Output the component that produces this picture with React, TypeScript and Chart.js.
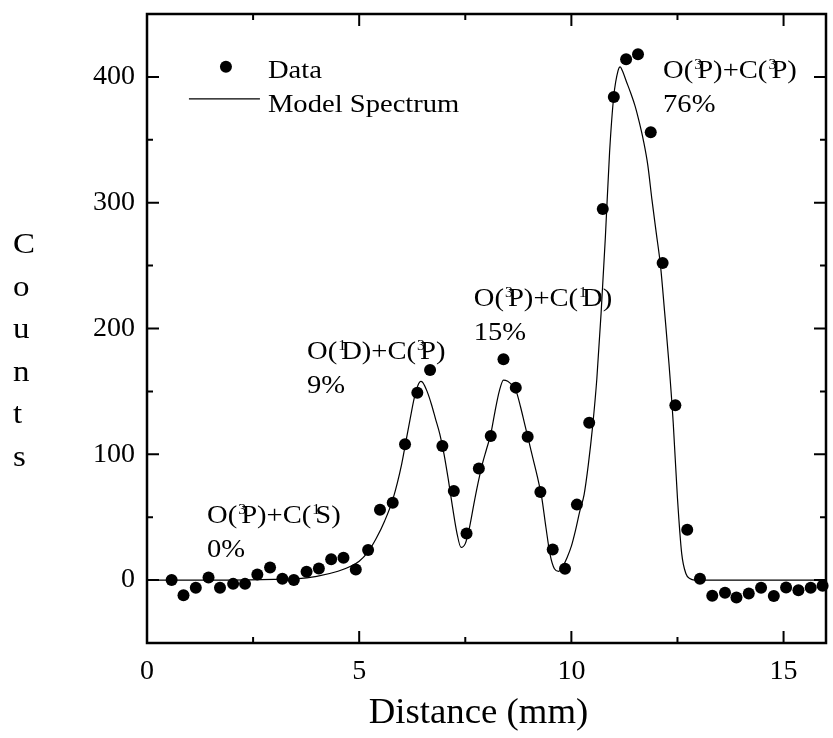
import { useEffect, useRef } from 'react';
import { Chart, registerables } from 'chart.js';

Chart.register(...registerables);

// ---- Data ----
const dataX = [0.58, 0.86, 1.15, 1.45, 1.72, 2.03, 2.31, 2.6, 2.9, 3.19, 3.46, 3.76, 4.05, 4.34, 4.63, 4.92, 5.21, 5.49, 5.79, 6.08, 6.37, 6.67, 6.96, 7.23, 7.53, 7.82, 8.1, 8.4, 8.69, 8.97, 9.27, 9.56, 9.85, 10.13, 10.42, 10.74, 11.0, 11.29, 11.57, 11.87, 12.15, 12.45, 12.73, 13.03, 13.32, 13.62, 13.89, 14.18, 14.47, 14.77, 15.06, 15.35, 15.64, 15.92, 16.2];
const dataY = [0, -12, -6, 2, -6, -3, -3, 4.5, 10, 1, 0, 6.6, 9.3, 16.5, 17.7, 8.5, 24, 56, 61.5, 108, 149, 167, 106.6, 70.8, 37, 88.8, 114.5, 175.5, 153, 114, 70, 24.4, 9, 60, 125, 295, 384, 414, 418, 356, 252, 139, 40, 1, -12.5, -10, -13.8, -10.6, -6, -12.7, -5.8, -8, -6, -4.5, -4.5];

const modelX = [0, 1, 2, 3, 3.5, 4, 4.5, 4.8, 5.0, 5.2, 5.4, 5.6, 5.8, 6.0, 6.1, 6.2, 6.3, 6.4, 6.45, 6.5, 6.6, 6.7, 6.8, 6.9, 7.0, 7.1, 7.2, 7.3, 7.4, 7.5, 7.6, 7.7, 7.8, 7.9, 8.0, 8.1, 8.2, 8.3, 8.4, 8.5, 8.6, 8.7, 8.8, 8.9, 9.0, 9.1, 9.2, 9.3, 9.4, 9.5, 9.6, 9.7, 9.8, 9.9, 10.0, 10.1, 10.2, 10.3, 10.4, 10.5, 10.6, 10.7, 10.8, 10.9, 11.0, 11.1, 11.15, 11.2, 11.3, 11.4, 11.5, 11.6, 11.7, 11.8, 11.9, 12.0, 12.1, 12.2, 12.3, 12.4, 12.5, 12.6, 12.7, 12.8, 12.9, 13.0, 14, 15, 16];
const modelY = [0, 0, 0, 0.5, 1, 3, 7, 11, 15, 22, 33, 47, 65, 92, 110, 128, 145, 156, 158, 157, 150, 140, 128, 116, 100, 80, 58, 38, 26, 29, 42, 60, 77, 92, 104, 116, 134, 150, 159, 158, 155, 150, 138, 124, 110, 96, 82, 66, 42, 20, 9, 7, 11, 18, 27, 40, 55, 68, 92, 122, 160, 212, 272, 340, 385, 405, 408, 405, 396, 387, 377, 364, 349, 330, 302, 276, 250, 212, 172, 125, 65, 21, 5, 1, 0, 0, 0, 0, 0];

const xTickLabels = ['0', '5', '10', '15'];
const yTickLabels = ['0', '100', '200', '300', '400'];

const seriesNames = ['Data', 'Model Spectrum'];
const yTitle = 'Counts';
const xTitle = 'Distance (mm)';

// channel labels: even parts = normal text, odd parts = superscript
const channelParts = [
  ['O(', '3', 'P)+C(', '1', 'S)'],
  ['O(', '1', 'D)+C(', '3', 'P)'],
  ['O(', '3', 'P)+C(', '1', 'D)'],
  ['O(', '3', 'P)+C(', '3', 'P)'],
];
const channelPercents = ['0%', '9%', '15%', '76%'];
const channelAnchorX = [1.414, 3.77, 7.7, 12.16];
const channelAnchorY = [45.3, 175.7, 217.9, 399.2];

const FONT = '"Liberation Serif", "Times New Roman", serif';

function drawStr(ctx: CanvasRenderingContext2D, s: string, x: number, y: number, size: number, sx: number, align: CanvasTextAlign = 'left') {
  ctx.save();
  ctx.font = `${size}px ${FONT}`;
  ctx.textAlign = align;
  ctx.textBaseline = 'alphabetic';
  ctx.fillStyle = '#000';
  ctx.translate(x, y);
  ctx.scale(sx, 1);
  ctx.fillText(s, 0, 0);
  ctx.restore();
}

function measure(ctx: CanvasRenderingContext2D, s: string, size: number, sx: number) {
  ctx.save();
  ctx.font = `${size}px ${FONT}`;
  const w = ctx.measureText(s).width * sx;
  ctx.restore();
  return w;
}

const decor = {
  id: 'decor',
  afterDraw(chart: any) {
    const { ctx, chartArea: ca, scales } = chart;
    const xs = scales.x;
    const ys = scales.y;
    ctx.save();
    ctx.strokeStyle = '#000';
    ctx.fillStyle = '#000';

    // tick marks (inward, all four sides)
    ctx.lineWidth = 2;
    ctx.beginPath();
    xs.ticks.forEach((t: any) => {
      const px = xs.getPixelForValue(t.value);
      const len = xTickLabels.includes(String(t.value)) ? 12 : 6;
      ctx.moveTo(px, ca.bottom);
      ctx.lineTo(px, ca.bottom - len);
      ctx.moveTo(px, ca.top);
      ctx.lineTo(px, ca.top + len);
    });
    ys.ticks.forEach((t: any) => {
      const py = ys.getPixelForValue(t.value);
      const len = yTickLabels.includes(String(t.value)) ? 12 : 6;
      ctx.moveTo(ca.left, py);
      ctx.lineTo(ca.left + len, py);
      ctx.moveTo(ca.right, py);
      ctx.lineTo(ca.right - len, py);
    });
    ctx.stroke();

    // frame
    ctx.lineWidth = 2.5;
    ctx.strokeRect(ca.left, ca.top, ca.right - ca.left, ca.bottom - ca.top);

    // legend
    const lx = xs.getPixelForValue(1.86);
    const ly = ys.getPixelForValue(408);
    ctx.beginPath();
    ctx.arc(lx, ly, 6, 0, Math.PI * 2);
    ctx.fill();
    drawStr(ctx, seriesNames[0], lx + 42, ly + 11, 26, 1.1);
    ctx.lineWidth = 1.2;
    ctx.beginPath();
    ctx.moveTo(lx - 37, ly + 32);
    ctx.lineTo(lx + 34, ly + 32);
    ctx.stroke();
    drawStr(ctx, seriesNames[1], lx + 42, ly + 45, 26, 1.1);

    // channel annotations
    channelParts.forEach((parts, i) => {
      let cx = xs.getPixelForValue(channelAnchorX[i]);
      const by = ys.getPixelForValue(channelAnchorY[i]);
      const x0 = cx;
      parts.forEach((p, k) => {
        if (k % 2 === 0) {
          drawStr(ctx, p, cx, by, 26, 1.1);
          cx += measure(ctx, p, 26, 1.1);
        } else {
          drawStr(ctx, p, cx + 1, by - 9, 15, 1.05);
          cx += 4;
        }
      });
      drawStr(ctx, channelPercents[i], x0, by + 34, 26, 1.1);
    });

    // y title: stacked letters
    yTitle.split('').forEach((c, i) => {
      drawStr(ctx, c, 13, 253 + i * 42.6, 30, 1.1);
    });

    // x title
    drawStr(ctx, xTitle, (ca.left + ca.right) / 2 - 8, 723, 35, 1.05, 'center');
    ctx.restore();
  },
};

export default function App() {
  const ref = useRef<HTMLCanvasElement>(null);
  useEffect(() => {
    const pts = dataX.map((x, i) => ({ x, y: dataY[i] }));
    const model = modelX.map((x, i) => ({ x, y: modelY[i] }));
    const chart = new Chart(ref.current as HTMLCanvasElement, {
      type: 'scatter',
      data: {
        datasets: [
          {
            label: seriesNames[0],
            data: pts,
            pointRadius: 6,
            pointHoverRadius: 6,
            pointBackgroundColor: '#000',
            pointBorderColor: '#000',
            pointBorderWidth: 0,
            showLine: false,
            clip: false,
          } as any,
          {
            label: seriesNames[1],
            data: model,
            showLine: true,
            pointRadius: 0,
            borderColor: '#000',
            borderWidth: 1.2,
            cubicInterpolationMode: 'monotone',
            fill: false,
          } as any,
        ],
      },
      options: {
        responsive: false,
        devicePixelRatio: 1,
        animation: false,
        events: [],
        layout: { padding: { left: 0, top: 0, right: 7, bottom: 0 } },
        plugins: { legend: { display: false }, tooltip: { enabled: false } },
        scales: {
          x: {
            type: 'linear',
            position: 'bottom',
            min: 0,
            max: 16,
            grid: { display: false, drawTicks: false },
            border: { display: false },
            ticks: {
              stepSize: 2.5,
              includeBounds: false,
              autoSkip: false,
              maxRotation: 0,
              padding: 12,
              color: '#000',
              font: { family: FONT, size: 28 },
              callback: (v: any) => (xTickLabels.includes(String(v)) ? String(v) : ''),
            },
            afterFit: (s: any) => { s.height = 95; s.paddingLeft = 0; s.paddingRight = 0; },
          },
          y: {
            type: 'linear',
            min: -50,
            max: 450,
            grid: { display: false, drawTicks: false },
            border: { display: false },
            ticks: {
              stepSize: 50,
              includeBounds: false,
              autoSkip: false,
              padding: 12,
              color: '#000',
              font: { family: FONT, size: 28 },
              callback: (v: any) => (yTickLabels.includes(String(v)) ? String(v) : ''),
            },
            afterFit: (s: any) => { s.width = 147; s.paddingTop = 14; s.paddingBottom = 0; },
          },
        },
      },
      plugins: [decor],
    });
    return () => chart.destroy();
  }, []);
  return (
    <div style={{ position: 'absolute', left: 0, top: 0, width: 833, height: 738, background: '#fff' }}>
      <canvas ref={ref} width={833} height={738} style={{ display: 'block', width: 833, height: 738 }} />
    </div>
  );
}
